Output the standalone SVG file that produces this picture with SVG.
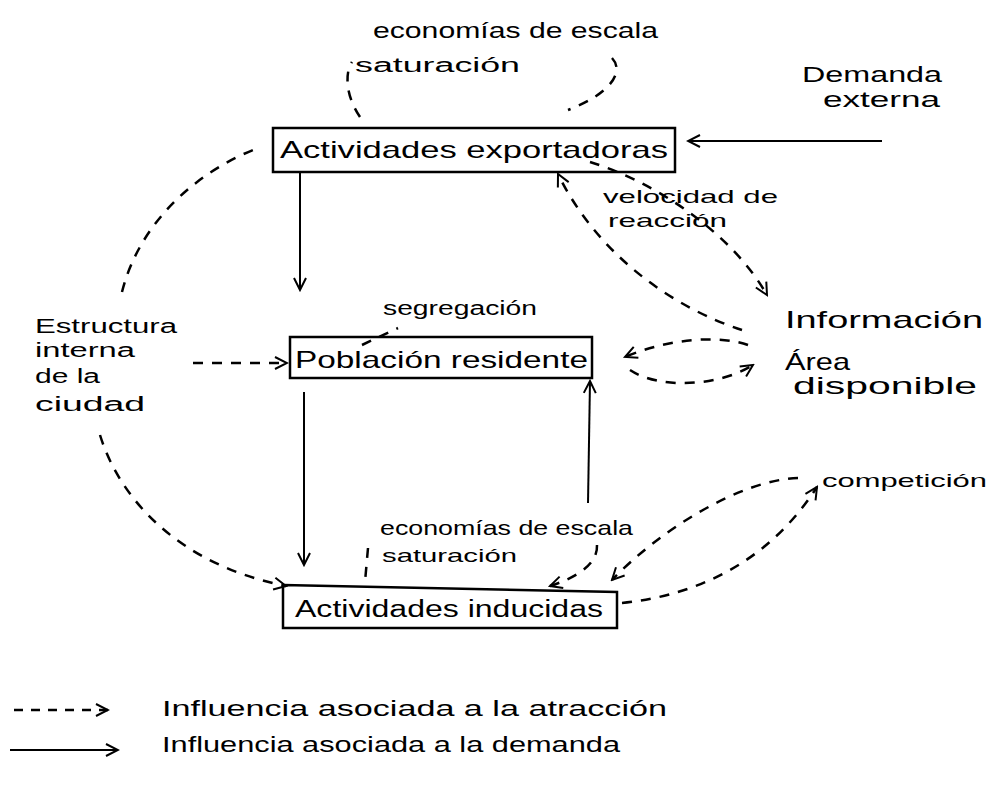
<svg xmlns="http://www.w3.org/2000/svg" width="996" height="787" viewBox="0 0 996 787">
<defs>
<marker id="head" viewBox="0 0 16 16" refX="14" refY="8" markerWidth="16" markerHeight="16" markerUnits="userSpaceOnUse" orient="auto">
<path d="M2,2 L14,8 L2,14" fill="none" stroke="#000" stroke-width="2"/>
</marker>
</defs>
<style>
text{font-family:"Liberation Sans","DejaVu Sans",sans-serif;fill:#000;}
.box{fill:none;stroke:#000;stroke-width:2.5;}
.solid{fill:none;stroke:#000;stroke-width:2;}
.dash{fill:none;stroke:#000;stroke-width:2.5;stroke-dasharray:10 9;}
.arr{marker-end:url(#head);}
</style>
<rect width="996" height="787" fill="#fff"/>

<g id="connectors">
<line class="solid arr" x1="882" y1="141" x2="688" y2="141"/>
<line class="solid arr" x1="300" y1="172" x2="300" y2="290"/>
<line class="solid arr" x1="304" y1="392" x2="304" y2="565"/>
<line class="solid arr" x1="588" y1="503" x2="590" y2="381"/>
<line class="dash arr" x1="193" y1="363" x2="287" y2="363"/>
<path class="dash" d="M122,292 C140,220 200,170 258,148"/>
<path class="dash arr" d="M100,435 C120,500 180,565 286,586"/>
<path class="dash" d="M360,117 C345,95 345,72 352,62"/>
<path class="dash" d="M612,58 C625,72 610,94 568,110"/>
<path class="dash arr" d="M590,162 C650,180 730,230 767,295"/>
<path class="dash arr" d="M742,330 C680,310 600,260 558,174"/>
<path class="dash arr" d="M748,345 C720,335 670,338 625,357"/>
<path class="dash arr" d="M630,370 C660,390 720,386 753,365"/>
<path class="dash" d="M362,345 L398,328"/>
<path class="dash" d="M368,548 L365,582"/>
<path class="dash arr" d="M597,545 C598,565 575,578 550,586"/>
<path class="dash arr" d="M798,478 C740,480 660,530 612,580"/>
<path class="dash arr" d="M622,603 C700,595 770,560 817,487"/>
</g>

<g id="box-exportadoras">
<rect class="box" x="273" y="128" width="402" height="44"/>
<text x="280" y="158" font-size="24" textLength="388" lengthAdjust="spacingAndGlyphs">Actividades exportadoras</text>
</g>
<g id="label-top">
<text x="373" y="38" font-size="22" textLength="285" lengthAdjust="spacingAndGlyphs">economías de escala</text>
<text x="355" y="72" font-size="20" textLength="165" lengthAdjust="spacingAndGlyphs">saturación</text>
</g>
<g id="demanda">
<text x="802" y="82" font-size="22" textLength="140" lengthAdjust="spacingAndGlyphs">Demanda</text>
<text x="823" y="107" font-size="22" textLength="117" lengthAdjust="spacingAndGlyphs">externa</text>
</g>
<g id="label-velocidad">
<text x="603" y="203" font-size="19" textLength="175" lengthAdjust="spacingAndGlyphs">velocidad de</text>
<text x="608" y="227" font-size="19" textLength="119" lengthAdjust="spacingAndGlyphs">reacción</text>
</g>
<g id="informacion">
<text x="785" y="328" font-size="24" textLength="198" lengthAdjust="spacingAndGlyphs">Información</text>
</g>
<g id="area">
<text x="785" y="370" font-size="24" textLength="65" lengthAdjust="spacingAndGlyphs">Área</text>
<text x="793" y="394" font-size="24" textLength="184" lengthAdjust="spacingAndGlyphs">disponible</text>
</g>
<g id="box-poblacion">
<rect class="box" x="290" y="337" width="302" height="41"/>
<text x="295" y="368" font-size="24" textLength="293" lengthAdjust="spacingAndGlyphs">Población residente</text>
<text x="383" y="315" font-size="20" textLength="154" lengthAdjust="spacingAndGlyphs">segregación</text>
</g>
<g id="estructura">
<text x="35" y="333" font-size="20" textLength="142" lengthAdjust="spacingAndGlyphs">Estructura</text>
<text x="35" y="357" font-size="20" textLength="100" lengthAdjust="spacingAndGlyphs">interna</text>
<text x="35" y="383" font-size="20" textLength="65" lengthAdjust="spacingAndGlyphs">de la</text>
<text x="35" y="411" font-size="20" textLength="110" lengthAdjust="spacingAndGlyphs">ciudad</text>
</g>
<g id="box-inducidas">
<path class="box" d="M283,585 L617,592 L617,628 L283,628 Z"/>
<text x="295" y="617" font-size="23" textLength="308" lengthAdjust="spacingAndGlyphs">Actividades inducidas</text>
<text x="380" y="535" font-size="21" textLength="253" lengthAdjust="spacingAndGlyphs">economías de escala</text>
<text x="382" y="562" font-size="19" textLength="135" lengthAdjust="spacingAndGlyphs">saturación</text>
</g>
<g id="competicion">
<text x="822" y="487" font-size="19" textLength="165" lengthAdjust="spacingAndGlyphs">competición</text>
</g>
<g id="legend">
<line class="dash arr" x1="14" y1="710" x2="108" y2="710" style="stroke-dasharray:9 8"/>
<line class="solid arr" x1="10" y1="750" x2="118" y2="750"/>
<text x="162" y="716" font-size="22" textLength="505" lengthAdjust="spacingAndGlyphs">Influencia asociada a la atracción</text>
<text x="162" y="752" font-size="22" textLength="458" lengthAdjust="spacingAndGlyphs">Influencia asociada a la demanda</text>
</g>
</svg>
